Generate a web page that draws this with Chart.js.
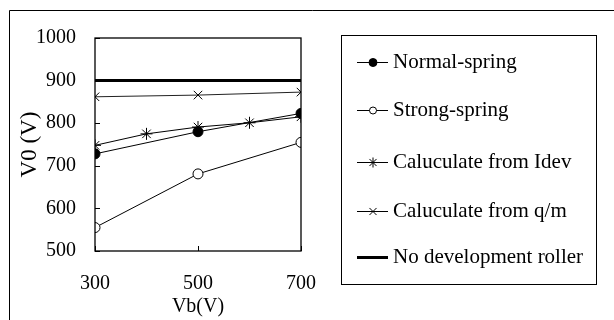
<!DOCTYPE html>
<html>
<head>
<meta charset="utf-8">
<script src="https://cdn.jsdelivr.net/npm/chart.js@4/dist/chart.umd.min.js"></script>
<style>
  html, body { margin: 0; padding: 0; background: #fff; }
  #wrap { width: 614px; height: 320px; }
</style>
</head>
<body>
<div id="wrap"><canvas id="chart" width="614" height="320"></canvas></div>
<script>
// values
const vbThree = [300, 500, 700];
const normalSpring = [728, 780, 823];
const strongSpring = [555, 681, 755];
const vbIdev = [300, 400, 500, 600, 700];
const calcIdev = [748, 775, 791, 801, 815];
const calcQm = [862, 866, 873];
const vbRoller = [300, 700];
const noRoller = [900, 900];
const xTickValues = [300, 500, 700];
const seriesNames = ['Normal-spring', 'Strong-spring', 'Caluculate from Idev', 'Caluculate from q/m', 'No development roller'];

const FONT = "'Liberation Serif', 'Times New Roman', serif";

function pts(xs, ys) {
    return xs.map((x, i) => ({ x: x, y: ys[i] }));
}

// draws a marker the same way for chart and legend
function marker(ctx, style, r, fill, x, y) {
    if (Chart.helpers && Chart.helpers.drawPoint) {
        ctx.fillStyle = fill;
        ctx.strokeStyle = '#000';
        ctx.lineWidth = 1;
        Chart.helpers.drawPoint(ctx, { pointStyle: style, radius: r, rotation: 0, borderWidth: 1 }, x, y);
    }
}

// inside tick marks, plot box, outer frame and the legend box
const decorations = {
    id: 'decorations',
    afterDraw(chart) {
        const ctx = chart.ctx;
        const a = chart.chartArea;
        const xs = chart.scales.x, ys = chart.scales.y;
        ctx.save();
        ctx.strokeStyle = '#000';
        ctx.lineWidth = 1;

        // outer frame (only top and left are inside the picture)
        ctx.beginPath();
        ctx.moveTo(9.5, 330);
        ctx.lineTo(9.5, 10.5);
        ctx.lineTo(620, 10.5);
        ctx.stroke();

        // plot box
        ctx.lineWidth = 1.3;
        ctx.strokeRect(a.left, a.top, a.right - a.left, a.bottom - a.top);

        // tick marks pointing into the plot
        ctx.lineWidth = 1;
        ctx.beginPath();
        ys.ticks.forEach(t => {
            const py = Math.round(ys.getPixelForValue(t.value)) + 0.5;
            ctx.moveTo(a.left, py);
            ctx.lineTo(a.left + 5, py);
        });
        xs.ticks.forEach(t => {
            const px = Math.round(xs.getPixelForValue(t.value)) + 0.5;
            ctx.moveTo(px, a.bottom);
            ctx.lineTo(px, a.bottom - 5);
        });
        ctx.stroke();

        // legend
        const box = { left: 341.5, top: 35.5, w: 255, h: 249 };
        ctx.strokeRect(box.left, box.top, box.w, box.h);
        const rowsY = [62, 110, 162, 211, 257];
        ctx.font = '21px ' + FONT;
        ctx.textBaseline = 'middle';
        ctx.textAlign = 'left';
        chart.data.datasets.forEach((ds, i) => {
            const y = rowsY[i];
            ctx.strokeStyle = '#000';
            ctx.lineWidth = ds.borderWidth;
            ctx.beginPath();
            ctx.moveTo(357, y + 0.5);
            ctx.lineTo(388, y + 0.5);
            ctx.stroke();
            if (ds.pointRadius > 0) {
                marker(ctx, ds.pointStyle, ds.legendRadius, ds.pointBackgroundColor, 373, y + 0.5);
            }
            ctx.fillStyle = '#000';
            ctx.fillText(ds.label, 393, y);
        });
        ctx.restore();
    }
};

const ctx = document.getElementById('chart').getContext('2d');
new Chart(ctx, {
    type: 'scatter',
    data: {
        datasets: [
            {
                label: seriesNames[0],
                data: pts(vbThree, normalSpring),
                showLine: true,
                borderColor: '#000',
                borderWidth: 1,
                pointStyle: 'circle',
                pointRadius: 5,
                legendRadius: 4,
                pointBackgroundColor: '#000',
                pointBorderColor: '#000',
            },
            {
                label: seriesNames[1],
                data: pts(vbThree, strongSpring),
                showLine: true,
                borderColor: '#000',
                borderWidth: 1,
                pointStyle: 'circle',
                pointRadius: 5,
                legendRadius: 3.5,
                pointBackgroundColor: '#fff',
                pointBorderColor: '#000',
            },
            {
                label: seriesNames[2],
                data: pts(vbIdev, calcIdev),
                showLine: true,
                borderColor: '#000',
                borderWidth: 1,
                pointStyle: 'star',
                pointRadius: 6,
                legendRadius: 5,
                pointBackgroundColor: '#000',
                pointBorderColor: '#000',
            },
            {
                label: seriesNames[3],
                data: pts(vbThree, calcQm),
                showLine: true,
                borderColor: '#222',
                borderWidth: 1,
                pointStyle: 'crossRot',
                pointRadius: 6,
                legendRadius: 5,
                pointBackgroundColor: '#000',
                pointBorderColor: '#000',
            },
            {
                label: seriesNames[4],
                data: pts(vbRoller, noRoller),
                showLine: true,
                borderColor: '#000',
                borderWidth: 3,
                pointRadius: 0,
                legendRadius: 0,
            },
        ],
    },
    options: {
        responsive: false,
        devicePixelRatio: 1,
        animation: false,
        layout: {
            padding: { left: 10, top: 38, right: 313, bottom: 0 },
        },
        plugins: {
            legend: { display: false },
            tooltip: { enabled: false },
        },
        scales: {
            x: {
                type: 'linear',
                min: 300,
                max: 700,
                afterBuildTicks: scale => {
                    scale.ticks = xTickValues.map(v => ({ value: v }));
                },
                afterFit: scale => { scale.height = 69; },
                grid: { display: false, drawTicks: false },
                border: { display: false },
                ticks: {
                    padding: 21,
                    color: '#000',
                    font: { family: FONT, size: 20 },
                    callback: v => String(v),
                },
                title: {
                    display: true,
                    text: 'Vb(V)',
                    color: '#000',
                    font: { family: FONT, size: 20 },
                    padding: { top: 0, bottom: 1 },
                },
            },
            y: {
                min: 500,
                max: 1000,
                afterFit: scale => { scale.width = 85; },
                grid: { display: false, drawTicks: false },
                border: { display: false },
                ticks: {
                    stepSize: 100,
                    padding: 19,
                    color: '#000',
                    font: { family: FONT, size: 20 },
                    callback: v => String(v),
                },
                title: {
                    display: true,
                    text: 'V0 (V)',
                    color: '#000',
                    font: { family: FONT, size: 23 },
                    padding: { top: 6, bottom: 0 },
                },
            },
        },
    },
    plugins: [decorations],
});
</script>
</body>
</html>
